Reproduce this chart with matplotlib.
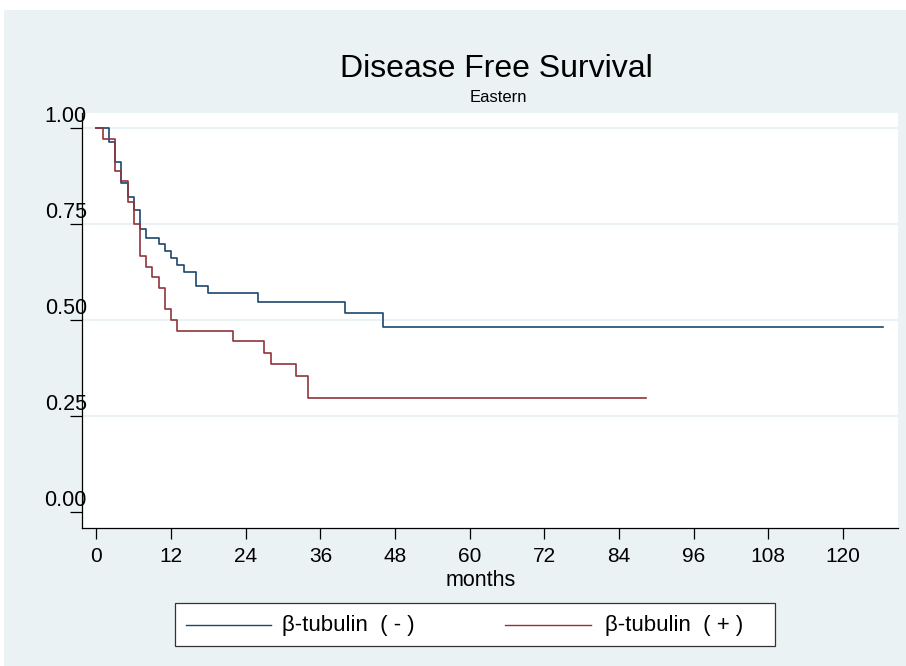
import matplotlib.pyplot as plt
from matplotlib.lines import Line2D
from matplotlib.patches import Rectangle
from matplotlib.transforms import ScaledTranslation

# Kaplan-Meier estimates, disease free survival (Eastern cohort)
months_neg = [0, 2, 3, 4, 5, 6, 7, 8, 10, 11, 12, 13, 14, 16, 18, 26, 40, 46, 126.4]
surv_neg = [1.0, 0.964, 0.911, 0.857, 0.821, 0.786, 0.736, 0.714, 0.698, 0.680,
            0.662, 0.644, 0.625, 0.589, 0.571, 0.548, 0.517, 0.483, 0.483]

months_pos = [0, 1, 3, 4, 5, 6, 7, 8, 9, 10, 11, 12, 13, 22, 27, 28, 32, 34, 88.3]
surv_pos = [1.0, 0.972, 0.889, 0.861, 0.806, 0.75, 0.667, 0.639, 0.611, 0.583,
            0.528, 0.5, 0.472, 0.446, 0.415, 0.385, 0.354, 0.296, 0.296]

x_ticks = list(range(0, 121, 12))
y_ticks = [0.0, 0.25, 0.5, 0.75, 1.0]
labels = ['β-tubulin  ( - )', 'β-tubulin  ( + )']

navy = '#1A476F'
maroon = '#90353B'
region = '#EAF2F3'

plt.rcParams['font.family'] = ['Liberation Sans', 'DejaVu Sans']

W, H = 906, 666
fig = plt.figure(figsize=(W / 100, H / 100), dpi=100)
fig.patches.append(Rectangle((4 / W, 0), 1, 1 - 10 / H, transform=fig.transFigure,
                             facecolor=region, edgecolor='none', zorder=-10))

ax = fig.add_axes([82 / W, 1 - 528 / H, (898 - 82) / W, (528 - 113) / H])
ax.set_facecolor('white')

for y in y_ticks[1:]:
    ax.axhline(y, color=region, lw=1.6, zorder=0)

ax.step(months_neg, surv_neg, where='post', color=navy, lw=1.2)
ax.step(months_pos, surv_pos, where='post', color=maroon, lw=1.2)

ax.set_xlim(-2.33, 128.84)
ax.set_ylim(-0.0417, 1.039)
ax.set_xticks(x_ticks)
ax.set_yticks(y_ticks)
ax.set_yticklabels(['%.2f' % v for v in y_ticks])

for side in ['top', 'right']:
    ax.spines[side].set_visible(False)
for side in ['left', 'bottom']:
    ax.spines[side].set_linewidth(0.9)

ax.tick_params(axis='x', length=8, width=0.9, pad=5.5, labelsize=15)
ax.tick_params(axis='y', length=9, width=0.9, pad=-12.5, labelsize=15.5)
# y labels sit above their tick marks
for lab in ax.get_yticklabels():
    lab.set_transform(lab.get_transform() + ScaledTranslation(0, 0.14, fig.dpi_scale_trans))

fig.text(496.5 / W, 1 - 69 / H, 'Disease Free Survival', ha='center', va='center', fontsize=23)
fig.text(498 / W, 1 - 98 / H, 'Eastern', ha='center', va='center', fontsize=12)
fig.text(481 / W, 1 - 580 / H, 'months', ha='center', va='center', fontsize=15.5)

# legend box
fig.patches.append(Rectangle((175 / W, 1 - 646 / H), 600 / W, 43 / H, transform=fig.transFigure,
                             facecolor='white', edgecolor='#333333', lw=0.9))
ly = 1 - 625 / H
fig.lines.append(Line2D([186 / W, 271 / W], [ly, ly], transform=fig.transFigure, color=navy, lw=1.0))
fig.lines.append(Line2D([505 / W, 591 / W], [ly, ly], transform=fig.transFigure, color=maroon, lw=1.0))
fig.text(282 / W, ly, labels[0], ha='left', va='center', fontsize=16)
fig.text(605 / W, ly, labels[1], ha='left', va='center', fontsize=16)

fig.savefig('out.png', dpi=100, facecolor='white')
